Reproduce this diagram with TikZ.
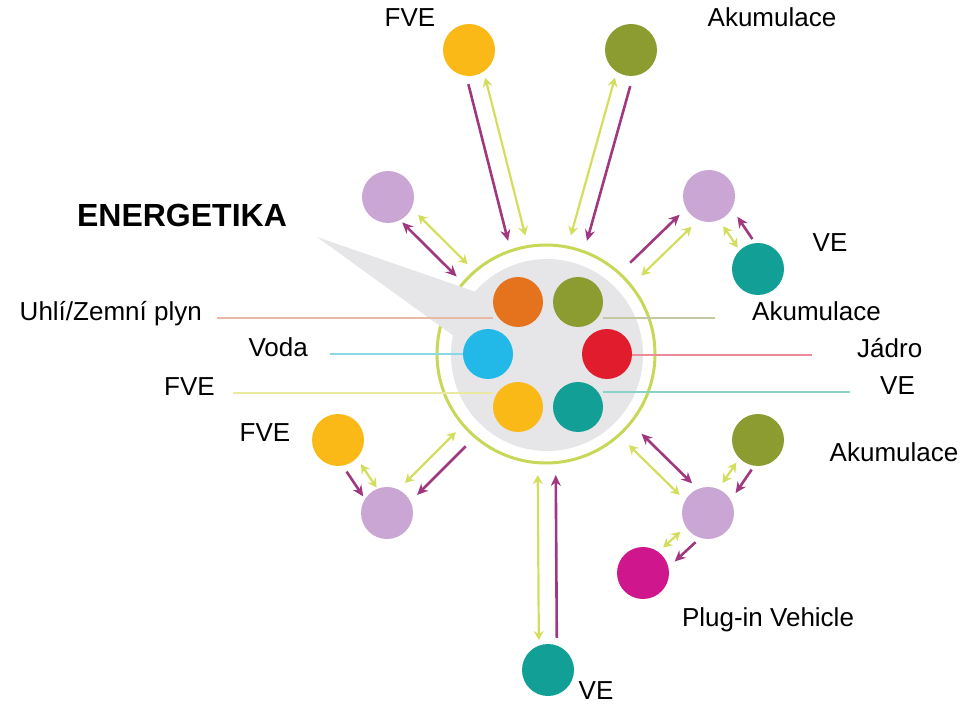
\documentclass[tikz,border=0pt]{standalone}
\usepackage{fontspec}
\setmainfont{Liberation Sans}
\usetikzlibrary{arrows.meta,calc}

\definecolor{sun}{HTML}{FBB917}
\definecolor{moss}{HTML}{8C9C31}
\definecolor{lilac}{HTML}{C9A6D3}
\definecolor{teal}{HTML}{12A096}
\definecolor{ember}{HTML}{E5731E}
\definecolor{sky}{HTML}{22B9E9}
\definecolor{ruby}{HTML}{E11C2C}
\definecolor{berry}{HTML}{D0168C}
\definecolor{lncoal}{HTML}{E9B9A5}
\definecolor{lnstore}{HTML}{C5C8A3}
\definecolor{lnwater}{HTML}{88D9E3}
\definecolor{lnnuke}{HTML}{EC8C9A}
\definecolor{lnsun}{HTML}{E9E9A0}
\definecolor{lnwind}{HTML}{88D2C8}
\definecolor{ringgreen}{HTML}{C8D758}
\definecolor{flowpurple}{HTML}{A0387F}
\definecolor{flowyellow}{HTML}{D3DE5E}
\definecolor{bubble}{HTML}{E6E6E8}

\tikzset{
  dot/.style={circle, inner sep=0pt, minimum size=52pt},
  core/.style={circle, inner sep=0pt, minimum size=50pt},
  lbl/.style={inner sep=0pt, anchor=mid, font=\fontsize{26}{30}\selectfont},
  feed/.style={line width=2pt},
  purp/.style={draw=flowpurple, line width=2.6pt, -{Stealth[length=11pt,width=10pt]}},
  purpback/.style={draw=flowpurple, line width=2.6pt, {Stealth[length=11pt,width=10pt]}-},
  purptwo/.style={draw=flowpurple, line width=2.6pt, {Stealth[length=11pt,width=10pt]}-{Stealth[length=11pt,width=10pt]}},
  yel/.style={draw=flowyellow, line width=2.2pt, {Stealth[length=9pt,width=10pt]}-{Stealth[length=9pt,width=10pt]}}
}

\begin{document}
\begin{tikzpicture}[x=1pt, y=-1pt]
	\useasboundingbox (0,0) rectangle (974,708);

	\node[circle, fill=bubble, minimum size=192pt, inner sep=0pt] (disc) at (547,355) {};
	\node[circle, draw=ringgreen, line width=3pt, minimum size=218pt, inner sep=0pt] (hub) at (546,354) {};
	\fill[bubble] (317,237) -- (476,292) -- (462,342) -- cycle;  % speech tail

	\node[lbl, font=\bfseries\fontsize{32}{36}\selectfont] (title) at (182,224) {ENERGETIKA};
	\node[lbl, anchor=mid east] (lblCoal) at (202,318) {Uhlí/Zemní plyn};
	\node[lbl, anchor=mid east] (lblWater) at (308,354) {Voda};
	\node[lbl, anchor=mid east] (lblSunIn) at (215,393) {FVE};
	\node[lbl, anchor=mid west] (lblStoreIn) at (752,318) {Akumulace};
	\node[lbl, anchor=mid west] (lblNuke) at (857,355) {Jádro};
	\node[lbl, anchor=mid west] (lblWindIn) at (880,392) {VE};

	\node[core, fill=ember] (coal) at (518,302) {};
	\node[core, fill=moss] (storein) at (578,302) {};
	\node[core, fill=sky] (water) at (488,354) {};
	\node[core, fill=ruby] (nuke) at (607,354) {};
	\node[core, fill=sun] (sunin) at (518,407) {};
	\node[core, fill=teal] (windin) at (578,407) {};

	\def\feeds {lblCoal.mid east/coal/lncoal/15, lblWater.mid east/water/lnwater/22, lblSunIn.mid east/sunin/lnsun/18, lblStoreIn.mid west/storein/lnstore/37, lblNuke.mid west/nuke/lnnuke/45, lblWindIn.mid west/windin/lnwind/30}
	\foreach \l/\c/\col/\s in \feeds
	{	\draw[feed, draw=\col, shorten <=\s pt, shorten >=25pt] (\l) -- (\l -| \c);}

	\node[dot, fill=sun] (fveT) at (469,50) {};
	\node[dot, fill=moss] (akuT) at (631,50) {};
	\node[dot, fill=lilac] (lilUL) at (388,197) {};
	\node[dot, fill=lilac] (lilUR) at (709,196) {};
	\node[dot, fill=teal] (veUR) at (758,269) {};
	\node[dot, fill=sun] (fveLL) at (338,440) {};
	\node[dot, fill=lilac] (lilLL) at (387,513) {};
	\node[dot, fill=moss] (akuLR) at (758,440) {};
	\node[dot, fill=lilac] (lilLR) at (708,513) {};
	\node[dot, fill=berry] (plug) at (643,573) {};
	\node[dot, fill=teal] (veB) at (548,670) {};

	\node[lbl] (tFVE) at (410,24) {FVE};
	\node[lbl] (tAku) at (772,24) {Akumulace};
	\node[lbl] (tVE) at (830,249) {VE};
	\node[lbl] (tFVEb) at (265,439) {FVE};
	\node[lbl] (tAkub) at (894,459) {Akumulace};
	\node[lbl] (tPlug) at (768,624) {Plug-in Vehicle};
	\node[lbl] (tVEb) at (596,697) {VE};

	\def\flows {fveT/hub/9/31/120/yel, fveT/hub/-9/33/119/purp, akuT/hub/-8/31/121/yel, akuT/hub/9/35/120/purp, lilUL/hub/8.5/34/119/yel, lilUL/hub/-8/28/118/purptwo, lilUR/hub/10/34/123/yel, lilUR/hub/-7/34/124/purpback, veUR/lilUR/5/29/33/yel, veUR/lilUR/-12/28/33/purp, fveLL/lilLL/5.5/33/27/yel, fveLL/lilLL/-10.5/31/27/purp, lilLL/hub/8.5/34/119/yel, lilLL/hub/-8.5/34/122/purpback, lilLR/hub/7/33/123/yel, lilLR/hub/-10/32/124/purptwo, akuLR/lilLR/-5/31/33/yel, akuLR/lilLR/11.5/28/32/purp, lilLR/plug/-5/33/32/yel, lilLR/plug/13/29/31/purp, veB/hub/9/30/121/yel, veB/hub/-9/32/121/purp}  % paired flows
	\foreach \u/\v/\d/\s/\t/\sty in \flows
	{	\draw[\sty, shorten <=\s pt, shorten >=\t pt] ($(\u)!\d pt!90:(\v)$) -- ($(\v)!\d pt!-90:(\u)$);}
\end{tikzpicture}
\end{document}
